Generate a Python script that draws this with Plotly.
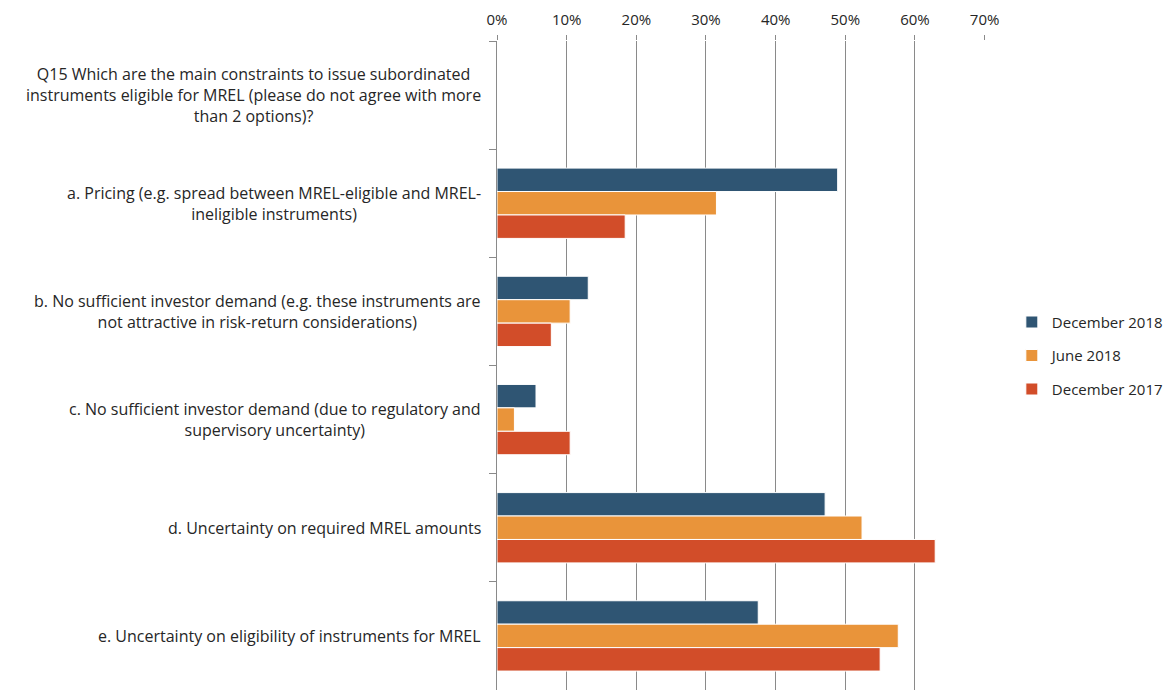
import plotly.graph_objects as go

# Survey question and answer options (top to bottom)
categories = ["Q15", "a", "b", "c", "d", "e"]
category_labels = [
    "Q15 Which are the main constraints to issue subordinated<br>"
    "instruments eligible for MREL (please do not agree with more<br>"
    "than 2 options)?",
    "a. Pricing (e.g. spread between MREL-eligible and MREL-<br>"
    "ineligible instruments)",
    "b. No sufficient investor demand (e.g. these instruments are<br>"
    "not attractive in risk-return considerations)",
    "c. No sufficient investor demand (due to regulatory and<br>"
    "supervisory uncertainty)",
    "d. Uncertainty on required MREL amounts",
    "e. Uncertainty on eligibility of instruments for MREL",
]

# Share of respondents per survey round (header row has no answers)
series_names = ["December 2018", "June 2018", "December 2017"]
dec_2018 = [None, 0.489, 0.131, 0.056, 0.471, 0.375]
jun_2018 = [None, 0.315, 0.105, 0.025, 0.524, 0.576]
dec_2017 = [None, 0.184, 0.078, 0.105, 0.629, 0.550]
series_values = [dec_2018, jun_2018, dec_2017]
series_colors = ["#2f5573", "#e9943a", "#d24d29"]

x_ticks = [0, 0.1, 0.2, 0.3, 0.4, 0.5, 0.6, 0.7]

FONT = "Open Sans"
TEXT_COLOR = "#262626"
GRID_COLOR = "#8a8a8a"

fig = go.Figure()
for name, vals, color in zip(series_names, series_values, series_colors):
    fig.add_trace(go.Bar(
        name=name,
        y=categories,
        x=vals,
        orientation="h",
        marker=dict(color=color, line=dict(color="#ffffff", width=1)),
        legendgroup=name,
    ))

# Category labels, centred as text blocks to the left of the axis
for cat, label in zip(categories, category_labels):
    fig.add_annotation(
        x=0, xref="x domain", y=cat, yref="y",
        text=label, showarrow=False,
        xanchor="right", yanchor="middle", align="center",
        xshift=-14,
        font=dict(family=FONT, size=16, color=TEXT_COLOR),
    )

fig.update_layout(
    width=1172, height=690,
    margin=dict(l=497, r=187, t=41, b=0),
    paper_bgcolor="white", plot_bgcolor="white",
    barmode="group", bargap=0.35, bargroupgap=0,
    font=dict(family=FONT, size=15, color=TEXT_COLOR),
    legend=dict(
        x=1.055, y=0.515, xanchor="left", yanchor="middle",
        traceorder="grouped", tracegroupgap=11,
        font=dict(family=FONT, size=15, color=TEXT_COLOR),
        itemwidth=30,
    ),
    showlegend=True,
)

fig.update_xaxes(
    side="top", range=[0, 0.7005],
    tickvals=x_ticks, tickformat=".0%",
    ticks="outside", ticklen=5, tickcolor=GRID_COLOR,
    ticklabelstandoff=4,
    showgrid=True, gridcolor=GRID_COLOR, gridwidth=1,
    zeroline=False, showline=False,
    tickfont=dict(family=FONT, size=15, color=TEXT_COLOR),
)
fig.update_yaxes(
    type="category", categoryorder="array", categoryarray=categories,
    autorange="reversed",
    showticklabels=False,
    ticks="outside", ticklen=7, tickcolor=GRID_COLOR, tickson="boundaries",
    showgrid=False, showline=True, linecolor=GRID_COLOR, linewidth=1,
)

fig.write_html("out.html")
